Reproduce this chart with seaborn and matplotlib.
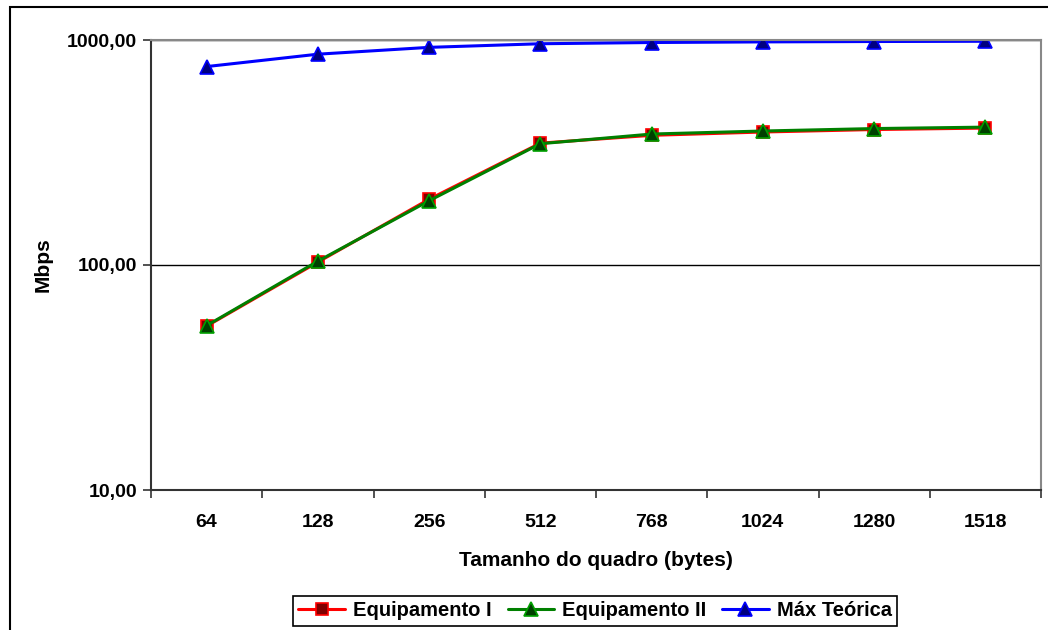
import matplotlib
matplotlib.use("Agg")
import matplotlib.pyplot as plt
import seaborn as sns
import pandas as pd
from matplotlib.patches import Rectangle

sns.set_theme(style="white")
plt.rcParams['font.family'] = ['Liberation Sans', 'DejaVu Sans']
plt.rcParams['text.color'] = 'black'
plt.rcParams['axes.labelcolor'] = 'black'
plt.rcParams['xtick.color'] = 'black'
plt.rcParams['ytick.color'] = 'black'

categories = ["64", "128", "256", "512", "768", "1024", "1280", "1518"]
equip_1 = [53.5, 103, 196, 348, 377, 390, 400, 406]
equip_2 = [53.8, 104, 193, 346, 382, 394, 404, 410]
max_teorica = [761.9, 864.9, 927.5, 962.4, 974.6, 980.8, 984.6, 987.0]
y_ticks = [10, 100, 1000]
y_tick_labels = ["10,00", "100,00", "1000,00"]

pos = list(range(len(categories)))
df = pd.DataFrame({"x": pos * 3,
                   "y": equip_1 + equip_2 + max_teorica,
                   "serie": ["Equipamento I"] * 8 + ["Equipamento II"] * 8 + ["Máx Teórica"] * 8})

fig = plt.figure(figsize=(10.48, 6.30), dpi=100)
ax = fig.add_axes([151/1048, 1-490/630, (1041-151)/1048, (490-40)/630])

styles = {
    "Equipamento I": dict(color="#FF0000", marker="s", mfc="#800000", mec="#FF0000", ms=9),
    "Equipamento II": dict(color="#008000", marker="^", mfc="#004000", mec="#00A000", ms=10),
    "Máx Teórica": dict(color="#0000FF", marker="^", mfc="#000080", mec="#0000FF", ms=10),
}
for name, st in styles.items():
    sub = df[df["serie"] == name]
    sns.lineplot(data=sub, x="x", y="y", ax=ax, color=st["color"], marker=st["marker"],
                 markerfacecolor=st["mfc"], markeredgecolor=st["mec"], markersize=st["ms"],
                 markeredgewidth=1.2, linewidth=2.2, label=name)

ax.set_yscale("log")
ax.set_ylim(10, 1000)
ax.set_xlim(-0.5, len(categories) - 0.5)
ax.set_yticks(y_ticks)
ax.set_yticklabels(y_tick_labels, fontsize=14, fontweight="bold")
ax.yaxis.set_minor_locator(matplotlib.ticker.NullLocator())
ax.tick_params(axis="y", which="major", direction="out", length=6, width=1.2, color="#333333", left=True, pad=4)

ax.set_xticks([p - 0.5 for p in pos] + [len(categories) - 0.5])
ax.set_xticklabels([])
ax.set_xticks(pos, minor=True)
ax.set_xticklabels(categories, minor=True, fontsize=14, fontweight="bold")
ax.tick_params(axis="x", which="major", direction="out", length=6, width=1.2, color="#333333", bottom=True)
ax.tick_params(axis="x", which="minor", length=0, pad=17)

ax.grid(False)
for yv in [100, 1000]:
    ax.axhline(yv, color="black", linewidth=1.0, zorder=0.5)

for s in ["left", "bottom"]:
    ax.spines[s].set_color("#333333")
    ax.spines[s].set_linewidth(1.5)
for s in ["top", "right"]:
    ax.spines[s].set_color("#888888")
    ax.spines[s].set_linewidth(1.5)

ax.set_xlabel("Tamanho do quadro (bytes)", fontsize=15, fontweight="bold")
ax.set_ylabel("Mbps", fontsize=15, fontweight="bold")
ax.xaxis.set_label_coords(0.5, (490 - 560) / 450, transform=ax.transAxes)
ax.yaxis.set_label_coords((43 - 151) / 890, 0.5, transform=ax.transAxes)
ax.xaxis.label.set_va("center")
ax.yaxis.label.set_va("center")

if ax.legend_:
    ax.legend_.remove()
handles, labels = ax.get_legend_handles_labels()
leg = fig.legend(handles, labels, loc="center", bbox_to_anchor=(595/1048, 1-611/630), ncol=3,
                 frameon=True, fancybox=False, edgecolor="black", framealpha=1,
                 prop={"weight": "bold", "size": 14.5}, handlelength=2.3, handletextpad=0.4,
                 columnspacing=0.8, borderpad=0.25)
leg.get_frame().set_linewidth(1.2)

fig.patches.append(Rectangle((10/1048, -0.1), 1.2, 1 - 7/630 + 0.1, transform=fig.transFigure,
                             fill=False, edgecolor="black", linewidth=1.5))

fig.savefig("out.png", dpi=100)
